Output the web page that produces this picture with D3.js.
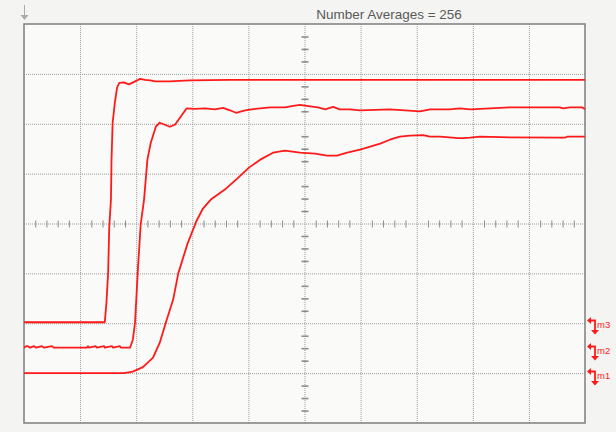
<!DOCTYPE html>
<meta charset="utf-8">
<html>
    <head>
        <title>Number Averages</title>
        <style>
            body { margin: 0; background: #f4f4f2; }
        </style>
    </head>

    <body>
        <div id="viz"></div>

        <script src="https://cdnjs.cloudflare.com/ajax/libs/d3/7.8.5/d3.min.js"></script>
        <script>
            var title = "Number Averages = 256";

            // traces: time in divisions, level in divisions
            var t1 = [0, 1.44, 1.47, 1.50, 1.52, 1.55, 1.56, 1.58, 1.62, 1.66, 1.70, 1.78, 1.87, 1.98, 2.07, 2.16, 2.25, 2.34, 2.60, 2.77, 2.96, 3.67, 10];
            var v1 = [-1.98, -1.98, -1.58, -0.98, -0.06, 0.48, 1.28, 2.02, 2.43, 2.73, 2.82, 2.83, 2.79, 2.85, 2.90, 2.88, 2.87, 2.85, 2.85, 2.86, 2.87, 2.88, 2.88];

            var t2 = [0, 0.04, 0.07, 0.11, 0.18, 0.21, 0.32, 0.36, 0.50, 0.53,
                      1.12, 1.14, 1.16, 1.28, 1.30, 1.43, 1.44, 1.57, 1.59, 1.71,
                      1.73, 1.89, 1.94, 1.98, 2.03, 2.08, 2.14, 2.20, 2.26, 2.35,
                      2.42, 2.51, 2.60, 2.69, 2.78, 2.90, 3.05, 3.23, 3.40, 3.55,
                      3.67, 3.78, 3.94, 4.12, 4.39, 4.65, 4.80, 4.92, 5.10, 5.24,
                      5.37, 5.51, 5.63, 5.81, 5.99, 6.26, 6.52, 6.79, 7.06, 7.24,
                      7.59, 7.77, 7.95, 8.31, 8.66, 9.55, 9.61, 9.73, 9.95, 10];
            var v2 = [-2.49, -2.46, -2.46, -2.49, -2.46, -2.49, -2.46, -2.49, -2.46, -2.49,
                      -2.49, -2.46, -2.49, -2.46, -2.49, -2.46, -2.49, -2.46, -2.49, -2.46,
                      -2.49, -2.49, -2.33, -1.98, -0.92, -0.02, 0.48, 1.28, 1.62, 1.94,
                      2.02, 1.98, 1.94, 1.98, 2.12, 2.31, 2.30, 2.31, 2.29, 2.32,
                      2.27, 2.22, 2.27, 2.30, 2.33, 2.33, 2.36, 2.38, 2.35, 2.33,
                      2.29, 2.34, 2.29, 2.29, 2.27, 2.28, 2.29, 2.27, 2.25, 2.29,
                      2.29, 2.31, 2.29, 2.31, 2.33, 2.33, 2.31, 2.33, 2.33, 2.29];

            var t3 = [0, 1.78, 1.94, 2.12, 2.30, 2.42, 2.53, 2.66, 2.75, 2.91,
                      3.07, 3.19, 3.33, 3.58, 3.80, 4.01, 4.21, 4.44, 4.65, 4.92,
                      5.19, 5.40, 5.58, 5.76, 5.99, 6.35, 6.52, 6.70, 6.88, 7.11,
                      7.24, 7.42, 7.74, 7.83, 7.95, 8.13, 8.49, 9.64, 9.68, 10];
            var v3 = [-3.0, -3.0, -2.97, -2.88, -2.69, -2.39, -1.98, -1.52, -1.0, -0.42,
                      0.04, 0.30, 0.48, 0.68, 0.90, 1.12, 1.28, 1.42, 1.46, 1.42,
                      1.40, 1.36, 1.36, 1.42, 1.48, 1.60, 1.68, 1.74, 1.76, 1.77,
                      1.74, 1.74, 1.71, 1.71, 1.72, 1.74, 1.73, 1.72, 1.74, 1.74];

            var markerNames = ["m3", "m2", "m1"];
            var markerLevels = [-1.98, -2.49, -3.0];

            var width = 616, height = 432;
            var plotLeft = 24, plotRight = 585, plotTop = 24, plotBottom = 423;
            var red = "#ff1a1a";
            var gridColor = "#9a9a9a";

            var x = d3.scaleLinear().domain([0, 10]).range([plotLeft, plotRight]);
            var y = d3.scaleLinear().domain([-4, 4]).range([plotBottom, plotTop]);

            var svg = d3.select("#viz")
                .append("svg")
                .attr("width", width)
                .attr("height", height)
                .style("display", "block");

            svg.append("rect")
                .attr("width", width).attr("height", height)
                .attr("fill", "#f4f4f2");
            svg.append("rect")
                .attr("x", plotLeft).attr("y", plotTop)
                .attr("width", plotRight - plotLeft).attr("height", plotBottom - plotTop)
                .attr("fill", "#fafaf9");

            // dotted grid
            svg.selectAll("line.vgrid")
                .data(x.ticks(10).filter(function (d) { return d > 0 && d < 10; }))
                .enter().append("line")
                .attr("class", "vgrid")
                .attr("x1", function (d) { return x(d) + 0.5; })
                .attr("x2", function (d) { return x(d) + 0.5; })
                .attr("y1", plotTop).attr("y2", plotBottom)
                .attr("stroke", gridColor)
                .attr("stroke-dasharray", "1,1");
            svg.selectAll("line.hgrid")
                .data(y.ticks(8).filter(function (d) { return d > -4 && d < 4; }))
                .enter().append("line")
                .attr("class", "hgrid")
                .attr("y1", function (d) { return y(d) + 0.5; })
                .attr("y2", function (d) { return y(d) + 0.5; })
                .attr("x1", plotLeft).attr("x2", plotRight)
                .attr("stroke", gridColor)
                .attr("stroke-dasharray", "1,1");

            // minor ticks on centre axes
            var xMinor = d3.range(1, 50).filter(function (i) { return i % 5 != 0; }).map(function (i) { return i / 5; });
            var yMinor = d3.range(1, 32).filter(function (i) { return i % 4 != 0; }).map(function (i) { return -4 + i / 4; });

            svg.selectAll("line.xminor")
                .data(xMinor).enter().append("line")
                .attr("x1", function (d) { return x(d) + 0.5; })
                .attr("x2", function (d) { return x(d) + 0.5; })
                .attr("y1", y(0) - 3).attr("y2", y(0) + 4)
                .attr("stroke", "#8c8c8c");
            svg.selectAll("line.yminor")
                .data(yMinor).enter().append("line")
                .attr("y1", function (d) { return y(d) + 0.5; })
                .attr("y2", function (d) { return y(d) + 0.5; })
                .attr("x1", x(5) - 3).attr("x2", x(5) + 4)
                .attr("stroke", "#8c8c8c")
                .attr("stroke-width", 1.6);

            // frame
            svg.append("rect")
                .attr("x", plotLeft).attr("y", plotTop)
                .attr("width", plotRight - plotLeft).attr("height", plotBottom - plotTop)
                .attr("fill", "none")
                .attr("stroke", "#858585")
                .attr("stroke-width", 1.6);

            // trigger arrow top-left
            svg.append("line")
                .attr("x1", plotLeft + 0.5).attr("x2", plotLeft + 0.5)
                .attr("y1", 5).attr("y2", 16)
                .attr("stroke", "#aaa");
            svg.append("path")
                .attr("d", "M" + (plotLeft - 3.5) + ",15 L" + (plotLeft + 4.5) + ",15 L" + (plotLeft + 0.5) + ",20 Z")
                .attr("fill", "#aaa");

            svg.append("text")
                .attr("x", 389).attr("y", 19)
                .attr("text-anchor", "middle")
                .attr("font-family", "Liberation Sans, Arial, sans-serif")
                .attr("font-size", 13.5)
                .attr("fill", "#5a5a5a")
                .text(title);

            var line = d3.line()
                .x(function (d) { return x(d[0]); })
                .y(function (d) { return y(d[1]); });

            var traces = [d3.zip(t1, v1), d3.zip(t2, v2), d3.zip(t3, v3)];
            svg.selectAll("path.trace")
                .data(traces).enter()
                .append("path")
                .attr("class", "trace")
                .attr("d", line)
                .attr("fill", "none")
                .attr("stroke", red)
                .attr("stroke-width", 1.8)
                .attr("stroke-linejoin", "round");

            // level markers on the right
            var marks = svg.selectAll("g.marker")
                .data(markerLevels).enter()
                .append("g")
                .attr("transform", function (d) { return "translate(" + plotRight + "," + Math.round(y(d)) + ")"; });
            marks.append("path")
                .attr("d", "M4,-1.5 L10,-1.5 L10,8")
                .attr("fill", "none")
                .attr("stroke", red)
                .attr("stroke-width", 1.8);
            marks.append("path")
                .attr("d", "M2,-1.5 L6,-5 L6,2 Z M6,8 L14,8 L10,12.5 Z")
                .attr("fill", red);
            marks.append("text")
                .attr("x", 12).attr("y", 6)
                .attr("font-family", "Liberation Sans, Arial, sans-serif")
                .attr("font-size", 9.5)
                .attr("fill", red)
                .text(function (d, i) { return markerNames[i]; });
        </script>
    </body>
</html>
